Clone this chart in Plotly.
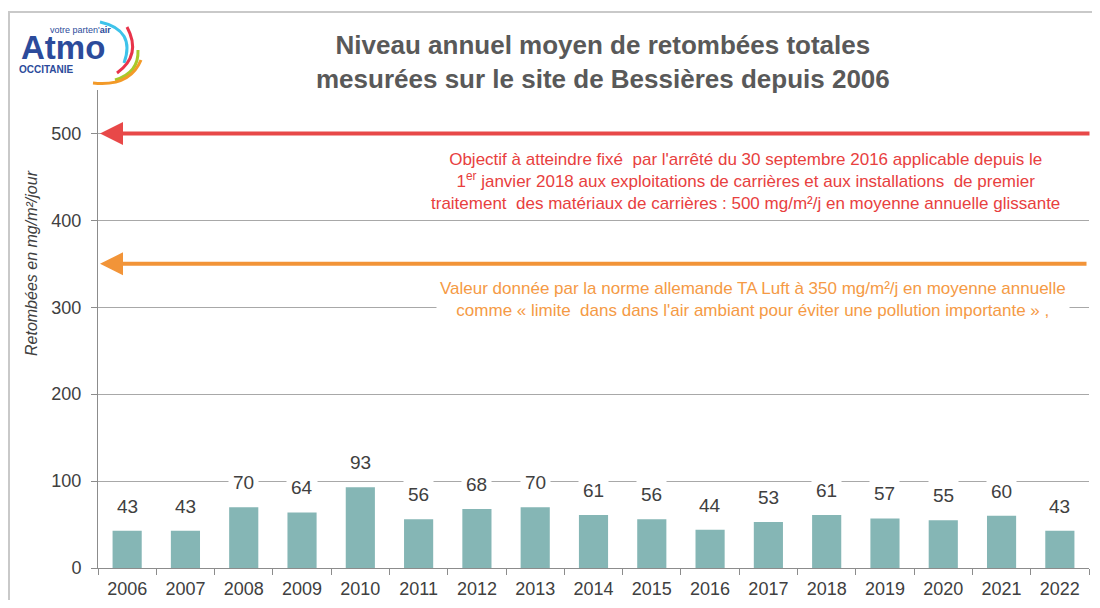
import plotly.graph_objects as go

years = [str(y) for y in range(2006, 2023)]
values = [43, 43, 70, 64, 93, 56, 68, 70, 61, 56, 44, 53, 61, 57, 55, 60, 43]
objective_value = 500
taluft_value = 350
y_ticks = [0, 100, 200, 300, 400, 500]

# page body has an 8px margin: figure drawn at (8, 8) in the window
OFF = 8
W, H = 1100 - 2 * OFF, 608 - 2 * OFF
L, T = 98 - OFF, 90 - OFF
R = (W + OFF) - 1089
B = (H + OFF) - 568
PW, PH = W - L - R, H - T - B

def px(x):  # window pixel -> paper
    return (x - OFF - L) / PW

def py(y):
    return (H + OFF - B - y) / PH

NARROW = "Liberation Sans Narrow, Arial Narrow, Liberation Sans, Arial, sans-serif"
TXT = "#404040"

fig = go.Figure()
fig.add_trace(go.Bar(x=years, y=values, marker=dict(color="#85b6b5", line=dict(width=0)),
                     width=0.5, hoverinfo="x+y"))

ann = []
for i, v in enumerate(values):
    ann.append(dict(x=i, y=v, xref="x", yref="y", text=str(v), showarrow=False,
                    xanchor="center", yanchor="bottom", yshift=9, bgcolor="white", borderpad=4,
                    font=dict(family=NARROW, size=19, color=TXT)))

# arrows
ann.append(dict(x=px(100), y=objective_value, xref="paper", yref="y", ax=991, ay=0,
                axref="pixel", ayref="pixel", text="", showarrow=True, arrowhead=2,
                arrowsize=1.15, arrowwidth=4, arrowcolor="#e84848"))
ann.append(dict(x=px(100), y=taluft_value, xref="paper", yref="y", ax=988, ay=0,
                axref="pixel", ayref="pixel", text="", showarrow=True, arrowhead=2,
                arrowsize=1.15, arrowwidth=4, arrowcolor="#f29438"))

def txt(x, y, text, **kw):
    d = dict(x=px(x), y=py(y), xref="paper", yref="paper", showarrow=False,
             xanchor="center", yanchor="middle", text=text)
    d.update(kw)
    ann.append(d)

txt(745, 182,
    "Objectif à atteindre fixé  par l'arrêté du 30 septembre 2016 applicable depuis le<br>"
    "1<sup>er</sup> janvier 2018 aux exploitations de carrières et aux installations  de premier<br>"
    "traitement  des matériaux de carrières : 500 mg/m²/j en moyenne annuelle glissante",
    font=dict(family=NARROW, size=17, color="#e8403e"))
txt(753, 299,
    "Valeur donnée par la norme allemande TA Luft à 350 mg/m²/j en moyenne annuelle<br>"
    "comme « limite  dans dans l'air ambiant pour éviter une pollution importante » ,",
    bgcolor="white", borderpad=3, font=dict(family=NARROW, size=17, color="#f59a45"))

# title
txt(603, 62, "<b>Niveau annuel moyen de retombées totales<br>mesurées sur le site de Bessières depuis 2006</b>",
    font=dict(family="Liberation Sans, Arial, sans-serif", size=26, color="#595959"))

# y axis title
txt(31, 263, "<i>Retombées en mg/m²/jour</i>", textangle=-90,
    font=dict(family=NARROW, size=16, color=TXT))

# logo text
txt(19, 47, "<b>Atmo</b>", xanchor="left",
    font=dict(family="Liberation Sans, Arial, sans-serif", size=33, color="#2c4b9b"))
txt(113, 30, "votre parten'<b>air</b>", xanchor="right",
    font=dict(family=NARROW, size=9, color="#2c4b9b"))
txt(17, 69, "<b>OCCITANIE</b>", xanchor="left",
    font=dict(family="Liberation Sans, Arial, sans-serif", size=10, color="#2c4b9b"))

shapes = []
def arc(p0, c, p1, color):
    path = "M {} {} Q {} {} {} {}".format(px(p0[0]), py(p0[1]), px(c[0]), py(c[1]), px(p1[0]), py(p1[1]))
    shapes.append(dict(type="path", xref="paper", yref="paper", path=path,
                       line=dict(color=color, width=3)))
arc((100, 22), (136, 30), (124, 63), "#3ec3ea")
arc((127, 27), (142, 55), (117, 73), "#e8334a")
arc((138, 50), (139, 73), (115, 80), "#a8c92a")
arc((141, 60), (130, 87), (93, 83), "#f39a28")

# outer frame (top and left edges visible)
shapes.append(dict(type="path", xref="paper", yref="paper", layer="below",
                   path="M {} {} L {} {} L {} {}".format(px(9), py(640), px(9), py(12), px(1140), py(12)),
                   line=dict(color="#c9c9c9", width=2)))

fig.update_layout(
    width=W, height=H, margin=dict(l=L, r=R, t=T, b=B),
    paper_bgcolor="white", plot_bgcolor="white", showlegend=False,
    annotations=ann, shapes=shapes,
    xaxis=dict(type="category", range=[-0.5, len(years) - 0.5], automargin=False, tickangle=0,
               showgrid=False, showline=True, linecolor="#8c8c8c", linewidth=1,
               ticks="outside", tickson="boundaries", ticklen=6, tickcolor="#8c8c8c",
               ticklabelstandoff=4,
               tickfont=dict(family=NARROW, size=18, color=TXT)),
    yaxis=dict(range=[0, 550], tickvals=y_ticks, automargin=False, showgrid=True,
               gridcolor="#a8a8a8", gridwidth=1,
               showline=True, linecolor="#8c8c8c", linewidth=1, ticks="outside", ticklen=6,
               tickcolor="#8c8c8c", zeroline=False, ticklabelstandoff=6,
               tickfont=dict(family=NARROW, size=18, color=TXT)),
    bargap=0.5,
)
fig.write_html("out.html")
